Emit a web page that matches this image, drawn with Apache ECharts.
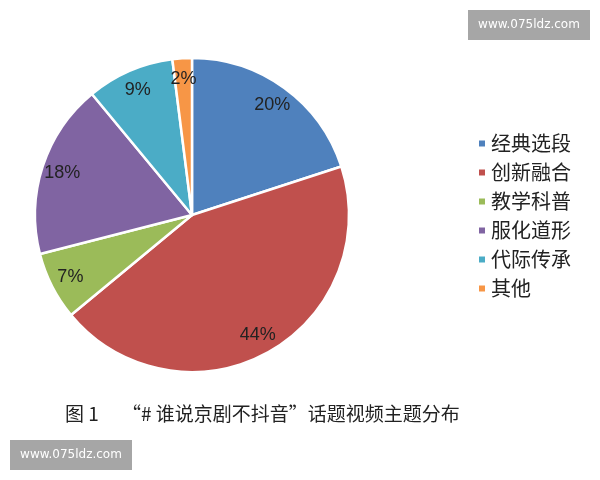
<!DOCTYPE html>
<html>
<head>
<meta charset="utf-8">
<script src="https://cdn.jsdelivr.net/npm/echarts@6/dist/echarts.min.js"></script>
<style>
  html, body { margin: 0; padding: 0; background: #fff; }
  #main { width: 600px; height: 480px; }
</style>
</head>
<body>
<div id="main"></div>
<script>
var categories = ['经典选段', '创新融合', '教学科普', '服化道形', '代际传承', '其他'];
var values = [20, 44, 7, 18, 9, 2];
var colors = ['#4f81bd', '#c0504d', '#9bbb59', '#8064a2', '#4bacc6', '#f79646'];
var caption = '图 1\u3000 “# 谁说京剧不抖音”话题视频主题分布';
var watermark = 'www.075ldz.com';

var myChart = echarts.init(document.getElementById('main'));

var pieData = categories.map(function (name, i) {
    return { name: name, value: values[i], itemStyle: { color: colors[i] } };
});

myChart.setOption({
    backgroundColor: '#fff',
    animation: false,
    legend: {
        orient: 'vertical',
        left: 472,
        top: 128,
        icon: 'rect',
        itemWidth: 8,
        itemHeight: 8,
        itemGap: 8,
        textStyle: {
            fontFamily: 'Noto Sans CJK SC',
            fontSize: 20,
            lineHeight: 21,
            color: '#222'
        },
        data: categories
    },
    series: [{
        // the slices
        type: 'pie',
        center: [192, 215],
        radius: [0, 157],
        startAngle: 90,
        clockwise: true,
        itemStyle: { borderColor: '#fff', borderWidth: 2.5 },
        label: { show: false },
        labelLine: { show: false },
        silent: true,
        data: pieData
    }, {
        // label ring only, so the labels sit near the rim
        type: 'pie',
        center: [192, 215],
        radius: [110, 157],
        startAngle: 90,
        clockwise: true,
        itemStyle: { color: 'transparent' },
        label: {
            show: true,
            position: 'inside',
            formatter: '{c}%',
            fontFamily: 'Liberation Sans',
            fontSize: 18,
            color: '#222'
        },
        labelLine: { show: false },
        silent: true,
        legendHoverLink: false,
        data: categories.map(function (name, i) {
            return { name: name + ' ', value: values[i] };
        })
    }],
    graphic: [{
        type: 'text',
        left: 65,
        top: 404,
        style: {
            text: caption,
            fontFamily: 'Noto Sans CJK SC',
            fontSize: 19,
            fill: '#222'
        }
    }, {
        type: 'group',
        left: 468,
        top: 10,
        children: [{
            type: 'rect',
            shape: { x: 0, y: 0, width: 122, height: 30 },
            style: { fill: '#a6a6a6' }
        }, {
            type: 'text',
            x: 61, y: 15,
            style: {
                text: watermark, fill: '#fff', fontSize: 12,
                fontFamily: 'DejaVu Sans', align: 'center', verticalAlign: 'middle'
            }
        }]
    }, {
        type: 'group',
        left: 10,
        top: 440,
        children: [{
            type: 'rect',
            shape: { x: 0, y: 0, width: 122, height: 30 },
            style: { fill: '#a6a6a6' }
        }, {
            type: 'text',
            x: 61, y: 15,
            style: {
                text: watermark, fill: '#fff', fontSize: 12,
                fontFamily: 'DejaVu Sans', align: 'center', verticalAlign: 'middle'
            }
        }]
    }]
});

window.onresize = function () {
    myChart.resize();
};
</script>
</body>
</html>
